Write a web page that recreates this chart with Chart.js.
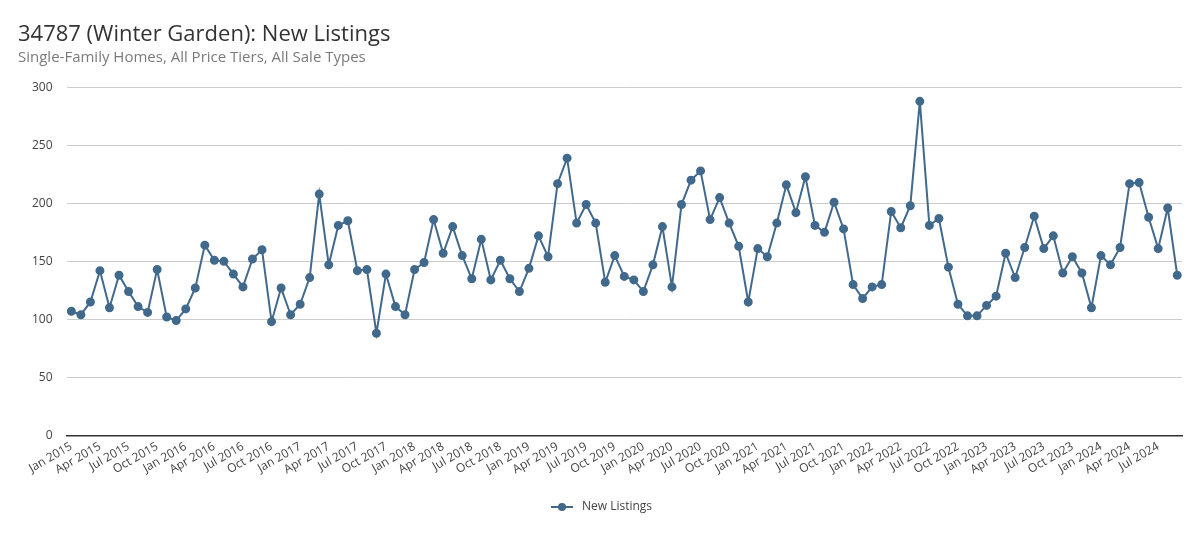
<!DOCTYPE html>
<html>
<head>
<meta charset="utf-8">
<script src="https://cdn.jsdelivr.net/npm/chart.js@4"></script>
<style>
  html, body { margin: 0; padding: 0; background: #fff; }
  #wrap { width: 1200px; height: 550px; position: relative; }
</style>
</head>
<body>
<div id="wrap"><canvas id="listingsChart"></canvas></div>
<script>
const monthNames = ['Jan', 'Feb', 'Mar', 'Apr', 'May', 'Jun', 'Jul', 'Aug', 'Sep', 'Oct', 'Nov', 'Dec'];
const startYear = 2015;
const monthCount = 117; // Jan 2015 .. Sep 2024

const newListings = [
    107, 104, 115, 142, 110, 138, 124, 111, 106, 143, 102, 99,
    109, 127, 164, 151, 150, 139, 128, 152, 160, 98, 127, 104,
    113, 136, 208, 147, 181, 185, 142, 143, 88, 139, 111, 104,
    143, 149, 186, 157, 180, 155, 135, 169, 134, 151, 135, 124,
    144, 172, 154, 217, 239, 183, 199, 183, 132, 155, 137, 134,
    124, 147, 180, 128, 199, 220, 228, 186, 205, 183, 163, 115,
    161, 154, 183, 216, 192, 223, 181, 175, 201, 178, 130, 118,
    128, 130, 193, 179, 198, 288, 181, 187, 145, 113, 103, 103,
    112, 120, 157, 136, 162, 189, 161, 172, 140, 154, 140, 110,
    155, 147, 162, 217, 218, 188, 161, 196, 138
];

const yTicks = [0, 50, 100, 150, 200, 250, 300];

const months = [];
for (let i = 0; i < monthCount; i++) {
    months.push(monthNames[i % 12] + ' ' + (startYear + Math.floor(i / 12)));
}

const colors = {
    line: '#41698c',
    text: '#333333',
    sub: '#7a7a7a',
    tick: '#444444',
    grid: '#cccccc',
    axis: '#333333'
};

// legend marker: short line with a dot in the middle
const legendMarker = document.createElement('canvas');
legendMarker.width = 22;
legendMarker.height = 12;
(function () {
    const c = legendMarker.getContext('2d');
    c.strokeStyle = colors.line;
    c.lineWidth = 2;
    c.beginPath();
    c.moveTo(0, 6);
    c.lineTo(22, 6);
    c.stroke();
    c.fillStyle = colors.line;
    c.beginPath();
    c.arc(11, 6, 4, 0, Math.PI * 2);
    c.fill();
})();

const ctx = document.getElementById('listingsChart').getContext('2d');
new Chart(ctx, {
    type: 'line',
    data: {
        labels: months,
        datasets: [{
            label: 'New Listings',
            data: newListings,
            borderColor: colors.line,
            backgroundColor: colors.line,
            pointBackgroundColor: colors.line,
            pointBorderColor: colors.line,
            borderWidth: 2,
            pointRadius: 3.5,
            tension: 0
        }]
    },
    options: {
        responsive: true,
        maintainAspectRatio: false,
        animation: false,
        layout: { padding: { left: 18, right: 18, top: 6, bottom: 27 } },
        scales: {
            x: {
                offset: true,
                grid: { display: false, drawTicks: false },
                border: { display: true, color: colors.axis, width: 1.5 },
                ticks: {
                    autoSkip: false,
                    maxRotation: 30,
                    minRotation: 30,
                    padding: 4,
                    color: colors.tick,
                    font: { family: 'Open Sans', size: 12 },
                    callback: function (value, index) {
                        return index % 3 === 0 ? months[index] : null;
                    }
                }
            },
            y: {
                min: 0,
                max: 300,
                afterBuildTicks: function (axis) {
                    axis.ticks = yTicks.map(v => ({ value: v }));
                },
                grid: { color: colors.grid, drawTicks: false },
                border: { display: false },
                ticks: {
                    padding: 14,
                    color: colors.tick,
                    font: { family: 'Open Sans', size: 12 }
                }
            }
        },
        plugins: {
            title: {
                display: true,
                text: '34787 (Winter Garden): New Listings',
                align: 'start',
                color: colors.text,
                font: { family: 'Open Sans', size: 22, weight: 'normal' },
                padding: { top: 16, bottom: 0 }
            },
            subtitle: {
                display: true,
                text: 'Single-Family Homes, All Price Tiers, All Sale Types',
                align: 'start',
                color: colors.sub,
                font: { family: 'Open Sans', size: 15 },
                padding: { top: 0, bottom: 21 }
            },
            legend: {
                position: 'bottom',
                labels: {
                    usePointStyle: true,
                    pointStyle: legendMarker,
                    pointStyleWidth: 28,
                    color: colors.tick,
                    padding: 20,
                    font: { family: 'Open Sans', size: 12 }
                }
            },
            tooltip: { enabled: false }
        }
    }
});
</script>
</body>
</html>
